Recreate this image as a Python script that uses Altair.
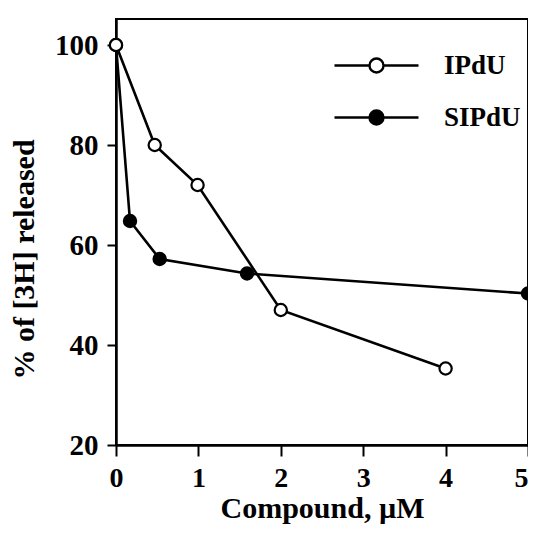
import altair as alt
import pandas as pd

# Data
ipdu_x = [0, 0.47, 0.99, 2.0, 4.0]
ipdu_y = [100, 80, 72, 47, 35.3]
sipdu_x = [0, 0.17, 0.53, 1.59, 5.0]
sipdu_y = [100, 64.8, 57.2, 54.3, 50.3]
series_names = ["IPdU", "SIPdU"]
x_ticks = [0, 1, 2, 3, 4, 5]
y_ticks = [20, 40, 60, 80, 100]

rows = []
for x, y in zip(sipdu_x, sipdu_y):
    rows.append({"series": "SIPdU", "x": x, "y": y, "order": 0})
for x, y in zip(ipdu_x, ipdu_y):
    rows.append({"series": "IPdU", "x": x, "y": y, "order": 1})
df = pd.DataFrame(rows)

FONT = "Liberation Serif"

xenc = alt.X(
    "x:Q",
    scale=alt.Scale(domain=[0, 5.0], nice=False, zero=False),
    axis=alt.Axis(
        values=x_ticks, title="Compound, µM", format="d",
        titleY=72, titleBaseline="alphabetic", titleFontSize=30,
        labelPadding=8, tickSize=11,
        labelAlign={"condition": {"test": "datum.value == 5", "value": "right"}, "value": "center"},
    ),
)
yenc = alt.Y(
    "y:Q",
    scale=alt.Scale(domain=[20, 105.2], nice=False, zero=False),
    axis=alt.Axis(
        values=y_ticks, title="% of [3H] released", format="d",
        titleX=-83, titleY=240, titleAngle=270, titleAlign="center",
        titleBaseline="alphabetic", labelPadding=9, tickSize=9,
        labelFontSize=29, titleFontSize=30,
    ),
)

lines = alt.Chart(df).mark_line(color="black", strokeWidth=2.6).encode(
    x=xenc, y=yenc, detail="series:N"
)

legend_path = "M -6 0 L -1 0 M 1 0 L 6 0 M -1 0 A 1 1 0 1 0 1 0 A 1 1 0 1 0 -1 0 Z"

points = alt.Chart(df).mark_point(
    filled=True, shape="circle", size=150, stroke="black", strokeWidth=2.2, opacity=1
).encode(
    x=xenc,
    y=yenc,
    fill=alt.Fill(
        "series:N",
        scale=alt.Scale(domain=series_names, range=["white", "black"]),
        legend=alt.Legend(
            orient="none", legendX=247, legendY=33, title=None,
            symbolType=legend_path, symbolSize=196, symbolStrokeWidth=2.4,
            symbolStrokeColor="black", symbolOpacity=1,
            labelFont=FONT, labelFontSize=27, labelFontWeight="bold",
            labelColor="black", labelOffset=54, rowPadding=24, padding=0,
        ),
    ),
    order="order:Q",
)

chart = (
    alt.layer(lines, points)
    .properties(
        width=412, height=426,
        autosize=alt.AutoSizeParams(type="none"),
        padding={"left": 108, "top": 11, "right": 0, "bottom": 80},
    )
    .configure_view(stroke="black", strokeWidth=2)
    .configure_axis(
        grid=False,
        domainColor="black", domainWidth=2.5,
        tickColor="black", tickWidth=2,
        labelFont=FONT, labelFontSize=28, labelFontWeight="bold", labelColor="black",
        titleFont=FONT, titleFontSize=28, titleFontWeight="bold", titleColor="black",
    )
)

chart.save("out.html", embed_options={"renderer": "svg", "actions": False})
